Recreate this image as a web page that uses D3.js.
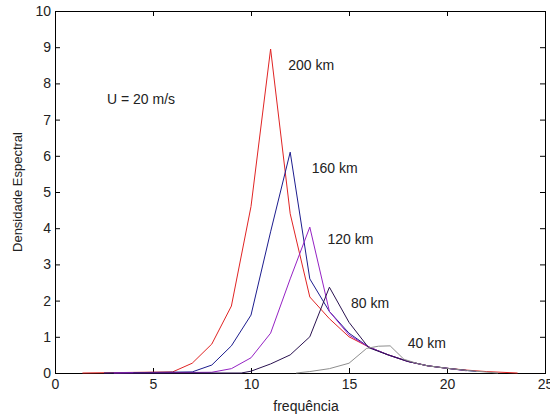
<!DOCTYPE html>
<html>
<head>
<meta charset="utf-8">
<script src="https://cdn.jsdelivr.net/npm/d3@7"></script>
<style>
  body { margin: 0; background: #fff; }
  text { font-family: Arial, "Liberation Sans", sans-serif; fill: #222; }
</style>
</head>
<body>
<div id="chart"></div>
<script>
// data
const xTicks = [0, 5, 10, 15, 20, 25];
const yTicks = [0, 1, 2, 3, 4, 5, 6, 7, 8, 9, 10];

const freq200 = [1.4, 6, 7, 8, 9, 10, 11, 12, 13, 14, 15, 16, 17, 18, 19, 20, 21, 22, 23.6];
const dens200 = [0, 0.03, 0.27, 0.8, 1.85, 4.6, 8.95, 4.4, 2.1, 1.5, 1.0, 0.72, 0.5, 0.32, 0.2, 0.13, 0.08, 0.04, 0];

const freq160 = [2.5, 7, 8, 9, 10, 11, 12, 13, 14, 15, 16, 17, 18, 19, 20, 21, 21.5];
const dens160 = [0, 0.03, 0.22, 0.75, 1.6, 3.9, 6.1, 2.6, 1.7, 1.1, 0.72, 0.5, 0.32, 0.2, 0.13, 0.07, 0.04];

const freq120 = [3, 8, 9, 10, 11, 12, 13, 14, 15, 16, 17, 18, 19, 20, 21];
const dens120 = [0, 0.02, 0.12, 0.42, 1.1, 2.6, 4.03, 1.7, 1.05, 0.72, 0.5, 0.32, 0.2, 0.13, 0.06];

const freq80 = [4, 9.5, 10, 11, 12, 13, 14, 15, 16, 17, 18, 19, 20, 21];
const dens80 = [0, 0, 0.05, 0.25, 0.5, 1.0, 2.37, 1.4, 0.7, 0.5, 0.32, 0.2, 0.13, 0.07];

const freq40 = [12.3, 13, 14, 15, 15.9, 16.5, 17.1, 17.8, 18.5, 19, 20, 21, 22.6];
const dens40 = [0, 0.04, 0.12, 0.27, 0.68, 0.74, 0.75, 0.38, 0.26, 0.2, 0.13, 0.07, 0];

const seriesNames = ['200 km', '160 km', '120 km', '80 km', '40 km'];

const series = [
  { name: seriesNames[0], freq: freq200, dens: dens200, color: '#e02424' },
  { name: seriesNames[1], freq: freq160, dens: dens160, color: '#1c1c8e' },
  { name: seriesNames[2], freq: freq120, dens: dens120, color: '#9522c4' },
  { name: seriesNames[3], freq: freq80, dens: dens80, color: '#2a1250' },
  { name: seriesNames[4], freq: freq40, dens: dens40, color: '#8e8e8e' }
];

// text placed in data units
const notes = [
  { text: '200 km', f: 11.9, v: 8.5 },
  { text: '160 km', f: 13.1, v: 5.65 },
  { text: '120 km', f: 13.9, v: 3.7 },
  { text: '80 km', f: 15.1, v: 1.92 },
  { text: '40 km', f: 18.0, v: 0.82 },
  { text: 'U = 20 m/s', f: 2.65, v: 7.57 }
];

const render = root => {
  const width = 550;
  const height = 417;
  const margin = { top: 11, right: 5, bottom: 44, left: 55 };

  const svg = d3.select(root).append('svg')
    .attr('width', width)
    .attr('height', height);

  const x = d3.scaleLinear().domain([0, 25]).range([margin.left, width - margin.right]);
  const y = d3.scaleLinear().domain([0, 10]).range([height - margin.bottom, margin.top]);

  const axisStyle = g => {
    g.select('.domain').remove();
    g.selectAll('line').attr('stroke', '#000');
    g.selectAll('text').attr('font-size', 14).attr('fill', '#222');
  };

  svg.append('g')
    .attr('transform', `translate(0,${y(0)})`)
    .call(d3.axisBottom(x).tickValues(xTicks).tickSize(-5).tickPadding(6))
    .call(axisStyle);

  svg.append('g')
    .attr('transform', `translate(${x(0)},0)`)
    .call(d3.axisLeft(y).tickValues(yTicks).tickSize(-5).tickPadding(4))
    .call(axisStyle);

  svg.append('g')
    .attr('transform', `translate(0,${y(10)})`)
    .call(d3.axisTop(x).tickValues(xTicks).tickSize(-5).tickFormat(''))
    .call(axisStyle);

  svg.append('g')
    .attr('transform', `translate(${x(25)},0)`)
    .call(d3.axisRight(y).tickValues(yTicks).tickSize(-5).tickFormat(''))
    .call(axisStyle);

  svg.append('rect')
    .attr('x', x(0) + 0.5)
    .attr('y', y(10) + 0.5)
    .attr('width', x(25) - x(0))
    .attr('height', y(0) - y(10))
    .attr('fill', 'none')
    .attr('stroke', '#000');

  const line = d3.line()
    .x(d => x(d[0]))
    .y(d => y(d[1]));

  svg.append('g').attr('class', 'lines')
    .selectAll('path')
    .data(series)
    .enter()
    .append('path')
    .attr('d', d => line(d3.zip(d.freq, d.dens)))
    .attr('fill', 'none')
    .attr('stroke', d => d.color)
    .attr('stroke-width', 1);

  svg.append('g').attr('class', 'notes')
    .selectAll('text')
    .data(notes)
    .enter()
    .append('text')
    .attr('x', d => x(d.f))
    .attr('y', d => y(d.v))
    .attr('dy', '0.35em')
    .attr('font-size', 14)
    .text(d => d.text);

  svg.append('text')
    .attr('x', 306)
    .attr('y', 411)
    .attr('text-anchor', 'middle')
    .attr('font-size', 14)
    .text('frequência');

  svg.append('text')
    .attr('transform', `translate(22,${(y(0) + y(10)) / 2}) rotate(-90)`)
    .attr('text-anchor', 'middle')
    .attr('font-size', 13)
    .text('Densidade Espectral');

  return svg;
};

render(document.getElementById('chart'));
</script>
</body>
</html>
